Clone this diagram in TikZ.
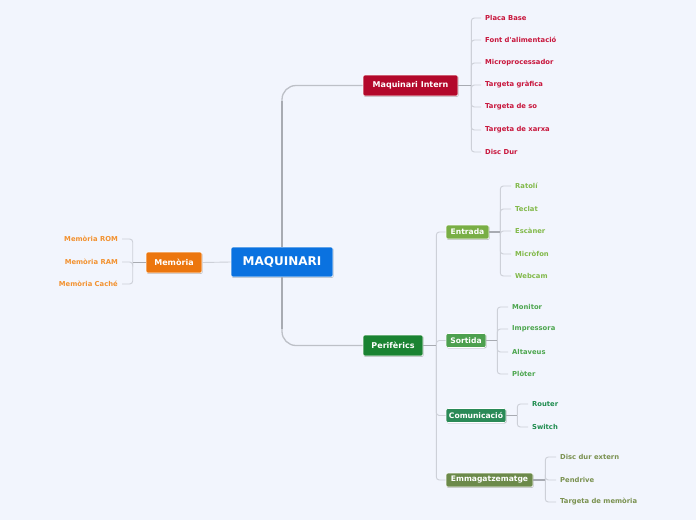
\documentclass[tikz,border=0pt]{standalone}
\usepackage{fontspec}
\setmainfont{DejaVu Sans}
\usetikzlibrary{shadows}
\definecolor{bg}{HTML}{F2F5FD}
\definecolor{maqc}{HTML}{0A72E0}
\definecolor{internc}{HTML}{B3082B}
\definecolor{perifc}{HTML}{1A8332}
\definecolor{memc}{HTML}{EC760E}
\definecolor{entc}{HTML}{79AE45}
\definecolor{sortc}{HTML}{4DA04F}
\definecolor{comc}{HTML}{2A8A57}
\definecolor{emmc}{HTML}{6C8A4A}
\definecolor{kintern}{HTML}{C8163C}
\definecolor{kent}{HTML}{82B94A}
\definecolor{ksort}{HTML}{4DA64F}
\definecolor{kcom}{HTML}{1E8C4E}
\definecolor{kemm}{HTML}{7A9150}
\definecolor{kmem}{HTML}{F39230}
\definecolor{brc}{HTML}{CDD0D8}
\definecolor{stc}{HTML}{A8ABB2}
\definecolor{trunkc}{HTML}{BDC0C7}
\begin{document}
\begin{tikzpicture}[x=1pt,y=-1pt,
  box/.style={rounded corners=2pt, draw=white, line width=0.6pt, text=white,
    font=\bfseries\fontsize{8}{9}\selectfont, inner sep=0pt,
    drop shadow={shadow xshift=0.6pt, shadow yshift=-0.9pt, opacity=0.25, fill=black}},
  subbox/.style={box, minimum height=14pt, font=\bfseries\fontsize{7.6}{9}\selectfont},
  leaf/.style={anchor=west, inner xsep=4pt, inner ysep=1pt, font=\bfseries\fontsize{6.8}{8}\selectfont},
  leafl/.style={anchor=east, inner xsep=4pt, inner ysep=1pt, font=\bfseries\fontsize{6.8}{8}\selectfont},
  br/.style={draw=brc, line width=0.9pt, rounded corners=3pt},
  stem/.style={draw=stc, line width=1.4pt},
  trunk/.style={draw=trunkc, line width=1.3pt, rounded corners=14pt}]
\fill[bg] (0,0) rectangle (696,520);
\useasboundingbox (0,0) rectangle (696,520);

% main nodes
\node[box, fill=maqc, minimum width=102pt, minimum height=30pt, font=\bfseries\fontsize{12}{14}\selectfont] (maq) at (282,262) {MAQUINARI};
\node[box, fill=internc, minimum width=95pt, minimum height=21pt] (intern) at (410.5,85.5) {Maquinari Intern};
\node[box, fill=perifc, minimum width=60pt, minimum height=21pt] (perif) at (393,345.5) {Perifèrics};
\node[box, fill=memc, minimum width=56pt, minimum height=21pt] (mem) at (174,262.5) {Memòria};
\node[subbox, fill=entc, minimum width=43pt] (ent) at (467.5,232) {Entrada};
\node[subbox, fill=sortc, minimum width=40pt] (sort) at (466,340.5) {Sortida};
\node[subbox, fill=comc, minimum width=60pt] (com) at (476,415.5) {Comunicació};
\node[subbox, fill=emmc, minimum width=87pt] (emm) at (489.5,480) {Emmagatzematge};

% trunk
\draw[trunk] (maq.north) |- (intern.west);
\draw[trunk] (maq.south) |- (perif.west);
\draw[draw=stc, line width=2.4pt] (maq.north) -- ++(0,-146);
\draw[draw=stc, line width=2.4pt] (maq.south) -- ++(0,52);
\draw[br] (maq.west) -- (mem.east);

% Maquinari Intern leaves
\foreach \n/\t/\y in {i1/Placa Base/18, i2/Font d\textquotesingle alimentació/40, i3/Microprocessador/63, i4/Targeta gràfica/85, i5/Targeta de so/107, i6/Targeta de xarxa/130, i7/Disc Dur/152}{
  \node[leaf, text=kintern] (\n) at (481,\y) {\t};
  \draw[br] (intern.east) ++(13,0) |- (\n.west);
}
\draw[stem] (intern.east) -- ++(13,0);

% Perifèrics branches
\foreach \n in {ent,sort,com,emm}{
  \draw[br] (perif.east) ++(13,0) |- (\n.west);
}
\draw[stem] (perif.east) -- ++(13,0);

% Entrada leaves
\foreach \n/\t/\y in {e1/Ratolí/186, e2/Teclat/209, e3/Escàner/231, e4/Micròfon/254, e5/Webcam/276}{
  \node[leaf, text=kent] (\n) at (511,\y) {\t};
  \draw[br] (ent.east) ++(11,0) |- (\n.west);
}
\draw[stem] (ent.east) -- ++(11,0);

% Sortida leaves
\foreach \n/\t/\y in {s1/Monitor/307, s2/Impressora/329, s3/Altaveus/352, s4/Plòter/374}{
  \node[leaf, text=ksort] (\n) at (508,\y) {\t};
  \draw[br] (sort.east) ++(11,0) |- (\n.west);
}
\draw[stem] (sort.east) -- ++(11,0);

% Comunicació leaves
\foreach \n/\t/\y in {c1/Router/404, c2/Switch/427}{
  \node[leaf, text=kcom] (\n) at (528,\y) {\t};
  \draw[br] (com.east) ++(11,0) |- (\n.west);
}
\draw[stem] (com.east) -- ++(11,0);

% Emmagatzematge leaves
\foreach \n/\t/\y in {m1/Disc dur extern/457, m2/Pendrive/480, m3/Targeta de memòria/502}{
  \node[leaf, text=kemm] (\n) at (556,\y) {\t};
  \draw[br] (emm.east) ++(12,0) |- (\n.west);
}
\draw[stem] (emm.east) -- ++(12,0);

% Memòria leaves
\foreach \n/\t/\y in {r1/Memòria ROM/239, r2/Memòria RAM/262, r3/Memòria Caché/284}{
  \node[leafl, text=kmem] (\n) at (122,\y) {\t};
  \draw[br] (mem.west) ++(-13,0) |- (\n.east);
}
\draw[stem] (mem.west) -- ++(-13,0);
\end{tikzpicture}
\end{document}
